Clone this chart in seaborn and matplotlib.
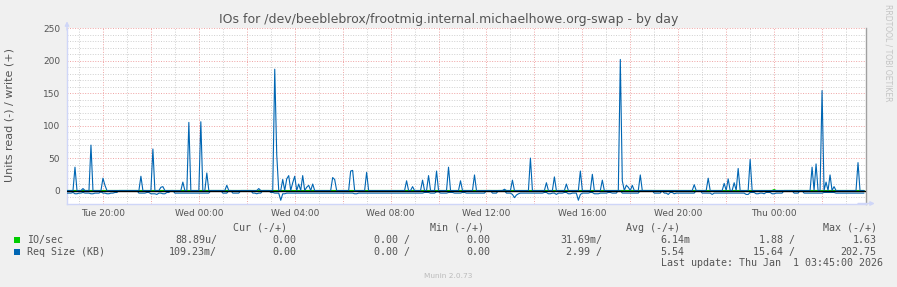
import numpy as np
import pandas as pd
import matplotlib
matplotlib.use("Agg")
import matplotlib.pyplot as plt
import seaborn as sns
from matplotlib.patches import Rectangle

# ---------------- data ----------------
TITLE = "IOs for /dev/beeblebrox/frootmig.internal.michaelhowe.org-swap - by day"
Y_LABEL = "Units read (-) / write (+)"
START_TIME = "Tue 18:30"
STEP_MINUTES = 5
N_STEPS = 400
X_TICK_TIMES = ["Tue 20:00", "Wed 00:00", "Wed 04:00", "Wed 08:00",
                "Wed 12:00", "Wed 16:00", "Wed 20:00", "Thu 00:00"]
Y_TICKS = [0, 50, 100, 150, 200, 250]
Y_LIMITS = (-20, 250)

# Req Size (KB) write (+): spikes above an otherwise zero baseline
REQ_WRITE_TIMES = [
    "Tue 18:50", "Tue 19:10", "Tue 19:30", "Tue 20:00", "Tue 20:05", "Tue 21:35", "Tue 22:05",
    "Tue 22:25", "Tue 22:30", "Tue 23:20", "Tue 23:35", "Wed 00:05", "Wed 00:20",
    "Wed 01:10", "Wed 02:30", "Wed 03:10", "Wed 03:15", "Wed 03:30", "Wed 03:40",
    "Wed 03:45", "Wed 03:55", "Wed 04:00", "Wed 04:10", "Wed 04:20", "Wed 04:30",
    "Wed 04:35", "Wed 04:45", "Wed 05:35", "Wed 05:40", "Wed 06:20", "Wed 06:25",
    "Wed 07:00", "Wed 08:40", "Wed 08:55", "Wed 09:20", "Wed 09:35", "Wed 09:55",
    "Wed 10:25", "Wed 10:55", "Wed 11:30", "Wed 12:45", "Wed 13:05", "Wed 13:50",
    "Wed 14:30", "Wed 14:50", "Wed 15:20", "Wed 15:55", "Wed 16:25", "Wed 16:50",
    "Wed 17:35", "Wed 17:40", "Wed 17:50", "Wed 17:55", "Wed 18:05", "Wed 18:25",
    "Wed 20:40", "Wed 21:15", "Wed 21:55", "Wed 22:05", "Wed 22:20", "Wed 22:30",
    "Wed 23:00", "Thu 01:35", "Thu 01:45", "Thu 02:00", "Thu 02:10", "Thu 02:20",
    "Thu 02:30", "Thu 03:30",
]
REQ_WRITE_VALUES = [
    36, 3, 70, 19, 8, 22, 64,
    5, 6, 13, 105, 106, 27,
    8, 3, 187, 55, 17, 18,
    23, 12, 22, 10, 23, 5,
    8, 10, 20, 17, 30, 31,
    28, 15, 6, 16, 23, 30,
    36, 15, 24, 2, 16, 50,
    12, 21, 10, 30, 25, 16,
    202, 15, 8, 5, 8, 24,
    9, 19, 11, 18, 12, 34,
    48, 36, 41, 154, 13, 24,
    6, 43,
]

# Req Size (KB) read (-): run lengths (in 5-minute steps) and their levels
REQ_READ_RUN_LENGTHS = [
    3, 1, 2, 2, 1, 3, 2, 3, 1, 2, 2, 2, 2,
    10,
    4, 2, 3, 1, 2, 2, 2,
    2, 12, 6, 6, 3, 2, 4, 6,
    2, 1, 2,
    4, 2, 3, 1, 2,
    34, 2, 33,
    3, 3, 2, 4, 3, 4, 2, 10,
    3, 3, 4, 3,
    1, 1, 1, 1,
    12,
    2, 2, 2, 1, 3, 2, 2, 3,
    1, 1,
    4, 2, 3, 4, 2, 3,
    2, 9, 7, 4, 1,
    2, 1, 2, 1, 2,
    8, 3,
    5, 1, 16,
    2,
    3, 2, 2, 1, 3, 2, 4,
    5, 3, 2, 10, 6, 15,
]
REQ_READ_RUN_VALUES = [
    -4, -3, -5, -4, -3, -4, -5, -4, -2, -4, -5, -4, -3,
    0,
    -4, -3, -5, -6, -4, -5, -3,
    0, -4, -4, 0, -4, 0, -4, 0,
    -4, -5, -4,
    0, -3, -4, -15, -5,
    -4, -5, -4,
    -3, -4, -2, -4, -3, -4, -3, -4,
    0, -4, 0, -4,
    -6, -11, -7, -5,
    -4,
    -3, -5, -4, -6, -4, -3, -5, -4,
    -15, -6,
    -4, -3, -5, -4, -3, -4,
    0, -4, 0, -4, 0,
    -4, -6, -3, -5, -4,
    -4, 0,
    -4, -6, -4,
    -6,
    -3, -5, -4, -5, -3, -5, -4,
    0, -4, 0, -4, -3, -4,
]

# IO/sec: almost zero everywhere, a few visible bits
IO_READ_TIMES = ["Wed 04:05", "Wed 04:10", "Wed 04:15", "Wed 04:20"]
IO_READ_VALUES = [-1.2, -1.5, -1.2, -1.4]
IO_WRITE_TIMES = ["Thu 00:00"]
IO_WRITE_VALUES = [1.63]

LEGEND_NAMES = ["IO/sec", "Req Size (KB)"]
LEGEND_COLORS = ["#00CC00", "#0066B3"]
LEGEND_HEADERS = ["Cur (-/+)", "Min (-/+)", "Avg (-/+)", "Max (-/+)"]
CUR_VALUES = [["88.89u/", "0.00"], ["109.23m/", "0.00"]]
MIN_VALUES = [["0.00 /", "0.00"], ["0.00 /", "0.00"]]
AVG_VALUES = [["31.69m/", "6.14m"], ["2.99 /", "5.54"]]
MAX_VALUES = [["1.88 /", "1.63"], ["15.64 /", "202.75"]]
LAST_UPDATE = "Last update: Thu Jan  1 03:45:00 2026"
FOOTER = "Munin 2.0.73"
WATERMARK = "RRDTOOL / TOBI OETIKER"

# ---------------- helpers ----------------
DAY_OFFSET = {"Tue": 0, "Wed": 24, "Thu": 48}


def to_hours(label):
    day, hm = label.split()
    h, m = hm.split(":")
    return DAY_OFFSET[day] + int(h) + int(m) / 60.0


start_h = to_hours(START_TIME)
hours = start_h + np.arange(N_STEPS) * STEP_MINUTES / 60.0


def step_of(label):
    return int(round((to_hours(label) - start_h) * 60 / STEP_MINUTES))


def spikes(times, values):
    s = np.zeros(N_STEPS)
    for t, v in zip(times, values):
        s[step_of(t)] = v
    return s


req_write = spikes(REQ_WRITE_TIMES, REQ_WRITE_VALUES)
req_read = np.repeat(REQ_READ_RUN_VALUES, REQ_READ_RUN_LENGTHS).astype(float)
io_read = spikes(IO_READ_TIMES, IO_READ_VALUES)
io_write = spikes(IO_WRITE_TIMES, IO_WRITE_VALUES)

df = pd.concat([
    pd.DataFrame({"hour": hours, "value": io_read, "series": "io_read"}),
    pd.DataFrame({"hour": hours, "value": io_write, "series": "io_write"}),
    pd.DataFrame({"hour": hours, "value": req_read, "series": "req_read"}),
    pd.DataFrame({"hour": hours, "value": req_write, "series": "req_write"}),
])
palette = {"io_read": LEGEND_COLORS[0], "io_write": LEGEND_COLORS[0],
           "req_read": LEGEND_COLORS[1], "req_write": LEGEND_COLORS[1]}

# ---------------- figure ----------------
sns.set_theme(style="white")
plt.rcParams["font.family"] = ["DejaVu Sans"]
W, H = 897, 287
BG = "#F0F0F0"
FONT = "#555555"
fig = plt.figure(figsize=(W / 100, H / 100), dpi=100, facecolor=BG)

L, R, T, B = 67, 866, 28.3, 203.5
ax = fig.add_axes([L / W, 1 - B / H, (R - L) / W, (B - T) / H])
ax.set_facecolor("white")

sns.lineplot(data=df, x="hour", y="value", hue="series", palette=palette,
             hue_order=["io_read", "io_write", "req_read", "req_write"],
             estimator=None, sort=False, legend=False, linewidth=0.8, ax=ax, zorder=3)
ax.axhline(0, color="black", lw=1.0, zorder=4)

ax.set_xlim(start_h, start_h + N_STEPS * STEP_MINUTES / 60.0)
ax.set_ylim(*Y_LIMITS)

tick_hours = [to_hours(t) for t in X_TICK_TIMES]
major_x = np.arange(20, 52, 2)
ax.set_xticks(major_x)
ax.set_xticklabels([X_TICK_TIMES[tick_hours.index(h)] if h in tick_hours else "" for h in major_x])
ax.set_xticks(np.arange(19, 52, 2), minor=True)
ax.set_yticks(Y_TICKS)
ax.set_yticks([v for v in range(-10, 250, 10) if v % 50 != 0], minor=True)

GRID_GREY = "#CFCFCF"
GRID_RED = "#EFA3A3"
dots = (0, (1, 1.6))
ax.grid(which="minor", color=GRID_GREY, linestyle=dots, lw=0.7, zorder=1)
ax.grid(which="major", color=GRID_RED, linestyle=dots, lw=0.7, zorder=1)
ax.set_axisbelow(True)

ax.tick_params(axis="both", which="both", length=0, labelsize=6.5, labelcolor=FONT)
ax.tick_params(axis="y", pad=5)
ax.tick_params(axis="x", pad=4)
ax.set_xlabel("")
ax.set_ylabel("")

AXIS_C = "#CFD6F8"
ax.spines["top"].set_visible(False)
ax.spines["left"].set_color(AXIS_C)
ax.spines["bottom"].set_color(AXIS_C)
ax.spines["left"].set_linewidth(1.0)
ax.spines["bottom"].set_linewidth(1.0)
ax.spines["right"].set_color("#A0A0A0")
ax.spines["right"].set_linewidth(1.0)
ax.annotate("", xy=(0, 1.04), xytext=(0, 0.99), xycoords="axes fraction",
            arrowprops=dict(arrowstyle="-|>", color=AXIS_C, lw=1.0, mutation_scale=6,
                            shrinkA=0, shrinkB=0), annotation_clip=False)
ax.annotate("", xy=(1.011, 0), xytext=(0.99, 0), xycoords="axes fraction",
            arrowprops=dict(arrowstyle="-|>", color=AXIS_C, lw=1.0, mutation_scale=6,
                            shrinkA=0, shrinkB=0), annotation_clip=False)


def ftext(x, y, s, **kw):
    fig.text(x / W, 1 - y / H, s, **kw)


ftext(448.5, 19, TITLE, ha="center", va="center", fontsize=9, color=FONT)
ftext(10, 115, Y_LABEL, ha="center", va="center", rotation=90, fontsize=8, color=FONT)
ftext(887.5, 53, WATERMARK, ha="center", va="center", rotation=270, fontsize=5.5, color="#C4C4C4")
ftext(448, 276.3, FOOTER, ha="center", va="center", fontsize=5.3, color="#BBBBBB")

MONO = dict(family="DejaVu Sans Mono", fontsize=7.2, color=FONT, va="center")
header_y = 227.7
header_right = [287, 484, 680, 876.5]
for hx, htxt in zip(header_right, LEGEND_HEADERS):
    ftext(hx, header_y, htxt, ha="right", **MONO)

row_y = [240, 252]
col_right = [(217, 296), (409.5, 490), (602, 690), (795, 876.5)]
for i, (name, color) in enumerate(zip(LEGEND_NAMES, LEGEND_COLORS)):
    y = row_y[i]
    fig.patches.append(Rectangle((14 / W, 1 - (y + 2.8) / H), 6 / W, 5.6 / H,
                                 transform=fig.transFigure, facecolor=color,
                                 edgecolor="none"))
    ftext(27, y, name, ha="left", **MONO)
    cells = [CUR_VALUES[i], MIN_VALUES[i], AVG_VALUES[i], MAX_VALUES[i]]
    for k, ((rx1, rx2), vals) in enumerate(zip(col_right, cells)):
        ftext(rx1, y, vals[0], ha="right", **MONO)
        # the Avg write value without a unit letter keeps a blank in its place
        shift = 6 if (k == 2 and vals[1][-1].isdigit()) else 0
        ftext(rx2 - shift, y, vals[1], ha="right", **MONO)

ftext(883, 263.3, LAST_UPDATE, ha="right", **MONO)

fig.savefig("out.png", dpi=100, facecolor=BG)
